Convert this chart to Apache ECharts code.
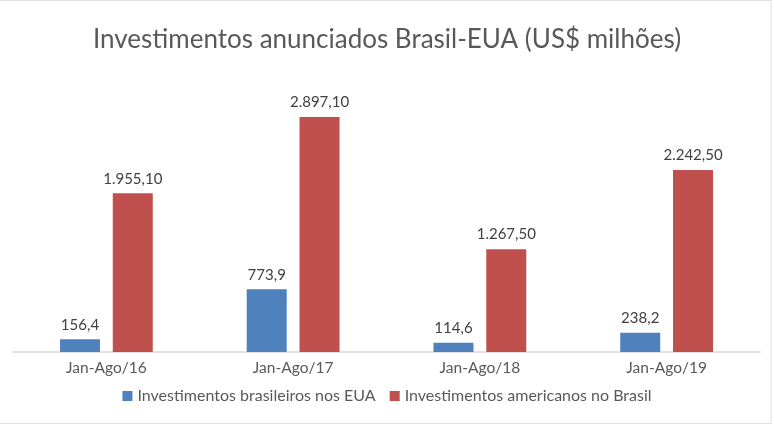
<!DOCTYPE html>
<html><head><meta charset="utf-8">
<script src="https://cdn.jsdelivr.net/npm/echarts@6/dist/echarts.min.js"></script>
<style>html,body{margin:0;padding:0;background:#fff}#c{width:774px;height:426px}</style>
</head><body><div id="c"></div>
<script>
const categories = ['Jan-Ago/16','Jan-Ago/17','Jan-Ago/18','Jan-Ago/19'];
const brasileiros = [156.4, 773.9, 114.6, 238.2];
const americanos = [1955.10, 2897.10, 1267.50, 2242.50];
const seriesNames = ['Investimentos brasileiros nos EUA','Investimentos americanos no Brasil'];

function fmt(v, d){
  const s = v.toFixed(d).split('.');
  const i = s[0].replace(/\B(?=(\d{3})+(?!\d))/g, '.');
  return d ? i + ',' + s[1] : i;
}
const font = 'Lato, "Open Sans", sans-serif';
const chart = echarts.init(document.getElementById('c'));
chart.setOption({
  animation:false,
  graphic:[{type:'rect', shape:{x:-2, y:0.5, width:773, height:423}, silent:true,
    style:{fill:'none', stroke:'#e0e0e0', lineWidth:1}}],
  title:{text:'Investimentos anunciados Brasil-EUA (US$ milhões)', left:'center', top:22,
    textStyle:{fontFamily:font, fontSize:26, fontWeight:'normal', color:'#595959'}},
  legend:{bottom:17, left:'center', itemWidth:10, itemHeight:10, itemGap:14,
    textStyle:{fontFamily:font, fontSize:16, color:'#595959'}, icon:'rect'},
  grid:{left:13, right:14, top:68, bottom:74},
  xAxis:{type:'category', data:categories,
    axisLine:{lineStyle:{color:'#d9d9d9', width:1.5}}, axisTick:{show:false},
    axisLabel:{fontFamily:font, fontSize:15.5, color:'#595959', margin:8}},
  yAxis:{type:'value', min:0, max:3500, show:false, splitLine:{show:false}},
  series:[
    {name:seriesNames[0], type:'bar', data:brasileiros, barWidth:40, barGap:'32%',
     itemStyle:{color:'#4F81BD'},
     label:{show:true, position:'top', distance:7, fontFamily:font, fontSize:15, color:'#404040',
       formatter:p=>fmt(p.value,1)}},
    {name:seriesNames[1], type:'bar', data:americanos, barWidth:40,
     itemStyle:{color:'#C0504D'},
     label:{show:true, position:'top', distance:7, fontFamily:font, fontSize:15, color:'#404040',
       formatter:p=>fmt(p.value,2)}}
  ]
});
</script></body></html>
